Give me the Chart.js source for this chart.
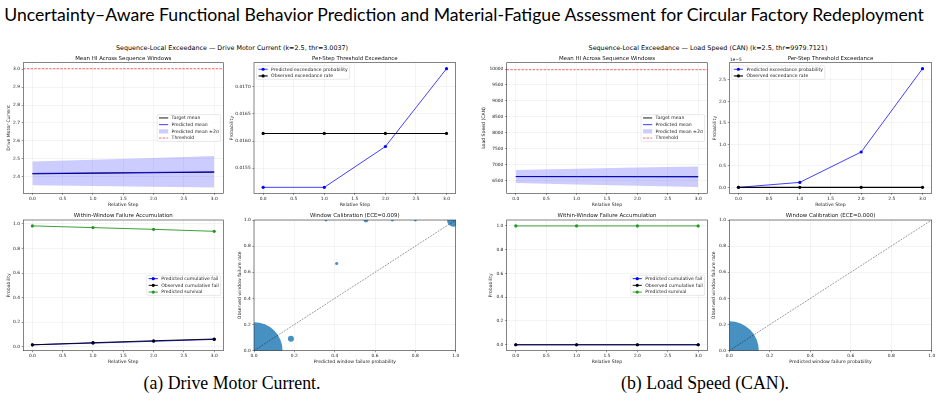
<!DOCTYPE html>
<html>
<head>
<meta charset="utf-8">
<script src="https://cdn.jsdelivr.net/npm/chart.js@4.4.1/dist/chart.umd.min.js"></script>
<style>
  html, body { margin: 0; padding: 0; background: #fff; }
  #fig { position: relative; width: 941px; height: 405px; overflow: hidden; background: #fff; }
  #fig canvas { position: absolute; }
  .txt { position: absolute; white-space: nowrap; transform: translate(-50%, -50%); line-height: 1; color: #000; }
</style>
</head>
<body>
<div id="fig">
  <div class="txt" id="mainTitle" style="left:464px; top:15px; font-family:Lato;">Uncertainty–Aware Functional Behavior Prediction and Material-Fatigue Assessment for Circular Factory Redeployment</div>
  <div class="txt sup" id="supA" style="left:232px; top:48px; font-family:'DejaVu Sans';">Sequence-Local Exceedance — Drive Motor Current (k=2.5, thr=3.0037)</div>
  <div class="txt sup" id="supB" style="left:708px; top:48px; font-family:'DejaVu Sans';">Sequence-Local Exceedance — Load Speed (CAN) (k=2.5, thr=9979.7121)</div>
  <div class="txt cap" id="capA" style="left:232px; top:383.5px; font-family:'Liberation Serif';">(a) Drive Motor Current.</div>
  <div class="txt cap" id="capB" style="left:705px; top:383.5px; font-family:'Liberation Serif';">(b) Load Speed (CAN).</div>
</div>
<script>
// ---- data ----
const steps = [0, 1, 2, 3];
const stepTicks = [0, 0.5, 1, 1.5, 2, 2.5, 3];
const probTicks = [0, 0.2, 0.4, 0.6, 0.8, 1.0];

// (a) Drive Motor Current
const dmcThreshold = 3.0037;
const dmcTargetMean = [2.416, 2.419, 2.422, 2.425];
const dmcPredMean = [2.418, 2.421, 2.424, 2.427];
const dmcBandLow = [2.352, 2.348, 2.344, 2.340];
const dmcBandHigh = [2.485, 2.495, 2.505, 2.515];
const dmcHiTicks = [2.4, 2.5, 2.6, 2.7, 2.8, 2.9, 3.0];
const dmcPredExceed = [0.01515, 0.01515, 0.0159, 0.01733];
const dmcObsExceed = [0.01614, 0.01614, 0.01614, 0.01614];
const dmcExceedTicks = [0.0155, 0.0160, 0.0165, 0.0170];
const dmcPredCumFail = [0.016, 0.030, 0.045, 0.060];
const dmcObsCumFail = [0.016, 0.033, 0.049, 0.063];
const dmcPredSurvival = [0.984, 0.970, 0.956, 0.940];
const dmcCalPred = [0.0, 0.183, 0.357, 0.41, 0.555, 0.686, 0.80, 0.99];
const dmcCalObs = [0.0, 0.092, 1.0, 0.667, 1.0, 1.0, 1.0, 1.0];
const dmcCalCount = [1990, 22, 5, 6, 14, 5, 5, 110];
const dmcEce = '0.009';

// (b) Load Speed (CAN)
const lsThreshold = 9979.7121;
const lsTargetMean = [6621, 6619, 6618, 6616];
const lsPredMean = [6622, 6620, 6618, 6616];
const lsBandLow = [6415, 6375, 6335, 6292];
const lsBandHigh = [6830, 6867, 6903, 6940];
const lsHiTicks = [6500, 7000, 7500, 8000, 8500, 9000, 9500, 10000];
const lsPredExceed = [0.0, 0.116e-5, 0.823e-5, 2.763e-5];
const lsObsExceed = [0, 0, 0, 0];
const lsExceedTicks = [0, 0.5e-5, 1.0e-5, 1.5e-5, 2.0e-5, 2.5e-5];
const lsPredCumFail = [0, 0, 0, 0];
const lsObsCumFail = [0, 0, 0, 0];
const lsPredSurvival = [1, 1, 1, 1];
const lsCalPred = [0.0];
const lsCalObs = [0.0];
const lsCalCount = [2130];
const lsEce = '0.000';

// ---- styling ----
const FONT = '"DejaVu Sans", sans-serif';
const TICK_FS = 4.4, LABEL_FS = 4.6, TITLE_FS = 5.45, LEG_FS = 4.6;
const GRID = 'rgba(0,0,0,0.09)';
const BLUE = '#0000ff', BLACK = '#000000', GREEN = 'rgb(34,150,34)';
const BAND = 'rgba(0,0,255,0.2)', THR = 'rgba(255,0,0,0.75)', BUBBLE = 'rgba(31,119,180,0.82)';
const STEP_RANGE = [-0.15, 3.15];

// fit the html titles
function fitFont(id, family, targetW) {
  const el = document.getElementById(id);
  const c = document.createElement('canvas').getContext('2d');
  c.font = '100px ' + family;
  return 100 * targetW / c.measureText(el.textContent).width;
}
const mainFs = fitFont('mainTitle', 'Lato', 922);
document.getElementById('mainTitle').style.fontSize = mainFs + 'px';
const supFs = fitFont('supA', '"DejaVu Sans"', 232.6);
document.querySelectorAll('.sup').forEach(e => e.style.fontSize = supFs + 'px');
const capFs = fitFont('capA', '"Liberation Serif"', 177);
document.querySelectorAll('.cap').forEach(e => e.style.fontSize = capFs + 'px');

const pts = (xs, ys) => xs.map((x, i) => ({ x, y: ys[i] }));

// frame, panel title, legend, offset text
const decor = {
  id: 'decor',
  afterDraw(chart, args, o) {
    const { ctx, chartArea: a } = chart;
    ctx.save();
    ctx.strokeStyle = '#333';
    ctx.lineWidth = 0.6;
    ctx.strokeRect(a.left, a.top, a.right - a.left, a.bottom - a.top);

    if (o.legend) {
      const items = o.legend.items;
      ctx.font = LEG_FS + 'px ' + FONT;
      const tw = Math.max(...items.map(it => ctx.measureText(it.label).width));
      const pad = 1.9, hl = 9.2, tp = 3.4, row = 6.7;
      const w = pad + hl + tp + tw + pad, h = items.length * row;
      let x, y;
      if (o.legend.loc === 'upper left') { x = a.left + 2.6; y = a.top + 3.2; }
      else { x = a.right - 2.6 - w; y = (a.top + a.bottom) / 2 - h / 2; }
      ctx.beginPath();
      ctx.roundRect(x, y, w, h, 1.2);
      ctx.fillStyle = 'rgba(255,255,255,0.8)';
      ctx.fill();
      ctx.strokeStyle = '#d2d2d2';
      ctx.lineWidth = 0.5;
      ctx.stroke();
      items.forEach((it, i) => {
        const cy = y + row * (i + 0.5), hx = x + pad;
        if (it.patch) {
          ctx.fillStyle = it.patch;
          ctx.fillRect(hx, cy - 2.1, hl, 4.2);
        } else {
          ctx.beginPath();
          ctx.setLineDash(it.dash || []);
          ctx.moveTo(hx, cy);
          ctx.lineTo(hx + hl, cy);
          ctx.strokeStyle = it.color;
          ctx.lineWidth = it.width || 0.9;
          ctx.stroke();
          ctx.setLineDash([]);
          if (it.marker) {
            ctx.beginPath();
            ctx.arc(hx + hl / 2, cy, 1.6, 0, Math.PI * 2);
            ctx.fillStyle = it.color;
            ctx.fill();
          }
        }
        ctx.fillStyle = '#1a1a1a';
        ctx.textAlign = 'left';
        ctx.textBaseline = 'middle';
        ctx.fillText(it.label, hx + hl + tp, cy + 0.2);
      });
    }

    ctx.fillStyle = '#111';
    ctx.textAlign = 'center';
    ctx.textBaseline = 'middle';
    ctx.font = TITLE_FS + 'px ' + FONT;
    ctx.fillText(o.title, (a.left + a.right) / 2, a.top - 4.4);
    if (o.offset) {
      ctx.font = TICK_FS + 'px ' + FONT;
      ctx.textAlign = 'left';
      ctx.fillText(o.offset, a.left + 0.5, a.top - 2.7);
    }
    ctx.restore();
  }
};

function scale(range, ticks, fmt, title, titlePad, fixed, horizontal) {
  return {
    type: 'linear',
    min: range[0],
    max: range[1],
    afterBuildTicks: s => { s.ticks = ticks.map(v => ({ value: v })); },
    afterFit: s => {
      if (horizontal) s.height = fixed; else s.width = fixed;
      s.paddingLeft = 0; s.paddingRight = 0; s.paddingTop = 0; s.paddingBottom = 0;
    },
    ticks: {
      autoSkip: false, maxRotation: 0, minRotation: 0,
      padding: horizontal ? 1.4 : 1.7,
      font: { family: FONT, size: TICK_FS }, color: '#1a1a1a',
      callback: fmt
    },
    grid: { color: GRID, lineWidth: 0.5, tickLength: 1.6, tickColor: '#333', tickWidth: 0.5 },
    border: { display: false },
    title: {
      display: true, text: title, color: '#1a1a1a',
      font: { family: FONT, size: LABEL_FS, lineHeight: 1.2 },
      padding: horizontal ? { top: 0, bottom: titlePad } : { top: titlePad, bottom: 0 }
    }
  };
}

// place a canvas so that its chart area lands on rect
function panel(rect, labelX, labelY, type, datasets, xs, ys, deco) {
  const half = LABEL_FS * 1.2 / 2;
  const left = Math.floor(labelX - half);
  const top = Math.floor(rect.y0 - 11);
  const right = Math.ceil(rect.x1 + 8);
  const bottom = Math.ceil(labelY + half);
  const cv = document.createElement('canvas');
  cv.width = right - left;
  cv.height = bottom - top;
  cv.style.left = left + 'px';
  cv.style.top = top + 'px';
  cv.style.width = cv.width + 'px';
  cv.style.height = cv.height + 'px';
  document.getElementById('fig').appendChild(cv);

  const x = scale(xs.range, xs.ticks, xs.fmt, xs.title, bottom - half - labelY, bottom - rect.y1, true);
  const y = scale(ys.range, ys.ticks, ys.fmt, ys.title, labelX - half - left, rect.x0 - left, false);
  new Chart(cv, {
    type,
    data: { datasets },
    options: {
      responsive: false,
      animation: false,
      devicePixelRatio: 1,
      events: [],
      layout: { autoPadding: false, padding: { left: 0, bottom: 0, top: rect.y0 - top, right: right - rect.x1 } },
      scales: { x, y },
      plugins: { legend: { display: false }, tooltip: { enabled: false }, decor: deco }
    },
    plugins: [decor]
  });
}

const f1 = v => v.toFixed(1);
const stepAxis = { range: STEP_RANGE, ticks: stepTicks, fmt: f1, title: 'Relative Step' };

function lineDs(ys, color, width, marker, order, extra) {
  return Object.assign({
    type: 'line', data: pts(steps, ys), borderColor: color, borderWidth: width,
    pointRadius: marker ? 1.6 : 0, pointBackgroundColor: color, pointBorderWidth: 0,
    fill: false, tension: 0, order
  }, extra || {});
}

function hiPanel(rect, lx, ly, target, pred, low, high, thr, range, ticks, fmt, ylabel) {
  const ds = [
    lineDs(target, BLACK, 1.0, false, 2),
    lineDs(pred, 'rgba(0,0,255,0.85)', 1.0, false, 1),
    lineDs(low, 'rgba(0,0,0,0)', 0, false, 6),
    lineDs(high, 'rgba(0,0,0,0)', 0, false, 5, { fill: '-1', backgroundColor: BAND }),
    { type: 'line', data: pts(STEP_RANGE, [thr, thr]), borderColor: THR, borderWidth: 0.8,
      borderDash: [2.4, 1.3], pointRadius: 0, fill: false, order: 3 }
  ];
  panel(rect, lx, ly, 'line', ds, stepAxis, { range, ticks, fmt, title: ylabel }, {
    title: 'Mean HI Across Sequence Windows',
    legend: { loc: 'center right', items: [
      { label: 'Target mean', color: BLACK },
      { label: 'Predicted mean', color: 'rgba(0,0,255,0.85)' },
      { label: 'Predicted mean ±2σ', patch: BAND },
      { label: 'Threshold', color: THR, dash: [2.4, 1.3], width: 0.8 }
    ] }
  });
}

function exceedPanel(rect, lx, ly, pred, obs, range, ticks, fmt, offset) {
  const ds = [
    lineDs(pred, BLUE, 0.75, true, 2),
    lineDs(obs, BLACK, 1.1, true, 1)
  ];
  panel(rect, lx, ly, 'line', ds, stepAxis, { range, ticks, fmt, title: 'Probability' }, {
    title: 'Per-Step Threshold Exceedance',
    offset,
    legend: { loc: 'upper left', items: [
      { label: 'Predicted exceedance probability', color: BLUE, marker: true, width: 0.75 },
      { label: 'Observed exceedance rate', color: BLACK, marker: true, width: 1.1 }
    ] }
  });
}

function accumPanel(rect, lx, ly, predFail, obsFail, surv, range) {
  const ds = [
    lineDs(predFail, BLUE, 0.9, true, 3),
    lineDs(obsFail, BLACK, 0.9, true, 2),
    lineDs(surv, GREEN, 0.9, true, 1)
  ];
  panel(rect, lx, ly, 'line', ds, stepAxis, { range, ticks: probTicks, fmt: f1, title: 'Probability' }, {
    title: 'Within-Window Failure Accumulation',
    legend: { loc: 'center right', items: [
      { label: 'Predicted cumulative fail', color: BLUE, marker: true },
      { label: 'Observed cumulative fail', color: BLACK, marker: true },
      { label: 'Predicted survival', color: GREEN, marker: true }
    ] }
  });
}

function calPanel(rect, lx, ly, predP, obsR, counts, ece) {
  const ds = [
    { type: 'line', data: pts([0, 1], [0, 1]), borderColor: 'rgba(0,0,0,0.7)', borderWidth: 0.6,
      borderDash: [1.8, 1.2], pointRadius: 0, fill: false, order: 1, clip: 0 },
    { type: 'bubble', data: predP.map((p, i) => ({ x: p, y: obsR[i], r: Math.sqrt(counts[i]) * 0.64 })),
      backgroundColor: BUBBLE, borderWidth: 0, order: 2, clip: 0 }
  ];
  panel(rect, lx, ly, 'bubble', ds,
    { range: [0, 1], ticks: probTicks, fmt: f1, title: 'Predicted window failure probability' },
    { range: [0, 1], ticks: probTicks, fmt: f1, title: 'Observed window failure rate' },
    { title: 'Window Calibration (ECE=' + ece + ')' });
}

// ---- panels ----
const TOP = { y0: 62.7, y1: 193.3 }, BOT = { y0: 220, y1: 350.7 };
const rect = (x0, x1, r) => ({ x0, x1, y0: r.y0, y1: r.y1 });

hiPanel(rect(23.3, 223.3, TOP), 9, 205, dmcTargetMean, dmcPredMean, dmcBandLow, dmcBandHigh,
  dmcThreshold, [2.307, 3.037], dmcHiTicks, f1, 'Drive Motor Current');
exceedPanel(rect(254, 455.7, TOP), 232, 205, dmcPredExceed, dmcObsExceed,
  [0.01504, 0.01744], dmcExceedTicks, v => v.toFixed(4), null);
accumPanel(rect(23.3, 223.3, BOT), 8.3, 361.7, dmcPredCumFail, dmcObsCumFail, dmcPredSurvival, [-0.032, 1.032]);
calPanel(rect(254, 455.7, BOT), 239.3, 361.7, dmcCalPred, dmcCalObs, dmcCalCount, dmcEce);

hiPanel(rect(506.7, 707.3, TOP), 484, 205, lsTargetMean, lsPredMean, lsBandLow, lsBandHigh,
  lsThreshold, [6095, 10200], lsHiTicks, v => v.toFixed(0), 'Load Speed (CAN)');
exceedPanel(rect(729.3, 931.7, TOP), 714.7, 205, lsPredExceed, lsObsExceed,
  [-0.138e-5, 2.901e-5], lsExceedTicks, v => (v / 1e-5).toFixed(1), '1e\u22125');
accumPanel(rect(506.7, 707.3, BOT), 490.7, 361.7, lsPredCumFail, lsObsCumFail, lsPredSurvival, [-0.05, 1.05]);
calPanel(rect(729.3, 931.7, BOT), 714, 361.7, lsCalPred, lsCalObs, lsCalCount, lsEce);
</script>
</body>
</html>
